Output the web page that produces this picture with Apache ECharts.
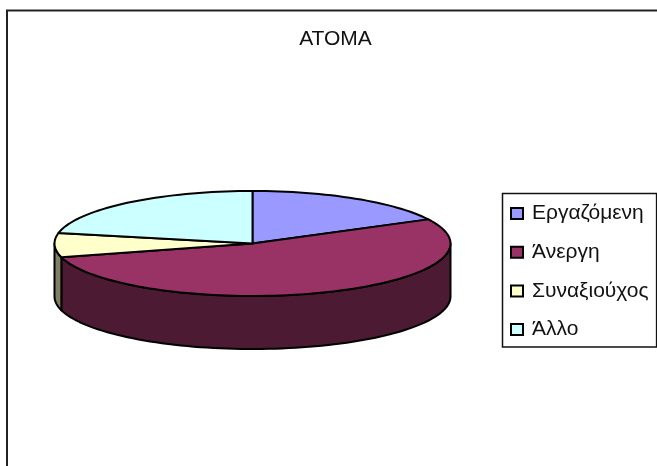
<!DOCTYPE html>
<html><head><meta charset="utf-8">
<style>html,body{margin:0;padding:0;background:#fff}#c{width:657px;height:466px}</style>
<script src="https://cdn.jsdelivr.net/npm/echarts@6/dist/echarts.min.js"></script>
</head><body><div id="c"></div>
<script>
const titleText = 'ΑΤΟΜΑ';
const categories = ['Εργαζόμενη', 'Άνεργη', 'Συναξιούχος', 'Άλλο'];
const values = [17.4, 53.4, 7.4, 21.8];
const colors = ['#9999FF', '#993366', '#FFFFCC', '#CCFFFF'];
const wallColors = ['#4D4D80', '#4D1A33', '#808066', '#668080'];

const CX = 252.5, CY = 243.5, RX = 198, RY = 52.5, DEPTH = 53;
const total = values.reduce((a, b) => a + b, 0);
const starts = [];
values.reduce((acc, v, i) => { starts[i] = acc; return acc + v; }, 0);

function pt(deg, dy) {
  const r = deg * Math.PI / 180;
  return [CX + RX * Math.sin(r), CY - RY * Math.cos(r) + (dy || 0)];
}
function arc(a0, a1, dy) {
  const n = Math.max(2, Math.ceil(Math.abs(a1 - a0) / 2));
  const out = [];
  for (let k = 0; k <= n; k++) out.push(pt(a0 + (a1 - a0) * k / n, dy));
  return out;
}
const stroke = { stroke: '#000', lineWidth: 2, lineJoin: 'round' };

function sliceItem(i) {
  return function () {
    const a0 = starts[i] / total * 360, a1 = (starts[i] + values[i]) / total * 360;
    const children = [];
    const w0 = Math.max(a0, 90), w1 = Math.min(a1, 270);
    if (w1 > w0) {
      const top = arc(w0, w1, 0), bottom = arc(w1, w0, DEPTH);
      children.push({ type: 'polygon', shape: { points: top.concat(bottom) },
        style: Object.assign({ fill: wallColors[i] }, stroke) });
    }
    const pts = [[CX, CY]].concat(arc(a0, a1, 0));
    children.push({ type: 'polygon', shape: { points: pts },
      style: Object.assign({ fill: colors[i] }, stroke) });
    return { type: 'group', children };
  };
}

const chart = echarts.init(document.getElementById('c'), null, { renderer: 'canvas' });
chart.setOption({
  animation: false,
  backgroundColor: '#fff',
  title: { text: titleText, left: 330.5, top: 24, textAlign: 'center',
    textStyle: { fontFamily: 'Liberation Sans', fontSize: 21, fontWeight: 'normal', color: '#111' } },
  legend: {
    orient: 'vertical', left: 502.5, top: 193.5,
    padding: [9.5, 8, 7, 7.5], itemGap: 17.7, itemWidth: 12, itemHeight: 11, icon: 'rect',
    borderColor: '#111', borderWidth: 1.5, backgroundColor: '#fff',
    selectedMode: false,
    data: categories,
    itemStyle: { borderColor: '#000', borderWidth: 2 },
    textStyle: { fontFamily: 'Liberation Sans', fontSize: 21, color: '#111', padding: [0, 0, 0, 4] }
  },
  graphic: [{ type: 'polyline', silent: true,
    shape: { points: [[7, 466], [7, 10.5], [657, 10.5]] },
    style: { fill: null, stroke: '#222', lineWidth: 2 } }],
  series: categories.map((name, i) => ({
    type: 'custom', name, coordinateSystem: 'none', silent: true,
    itemStyle: { color: colors[i] },
    data: [values[i]],
    renderItem: sliceItem(i)
  }))
});
</script></body></html>
